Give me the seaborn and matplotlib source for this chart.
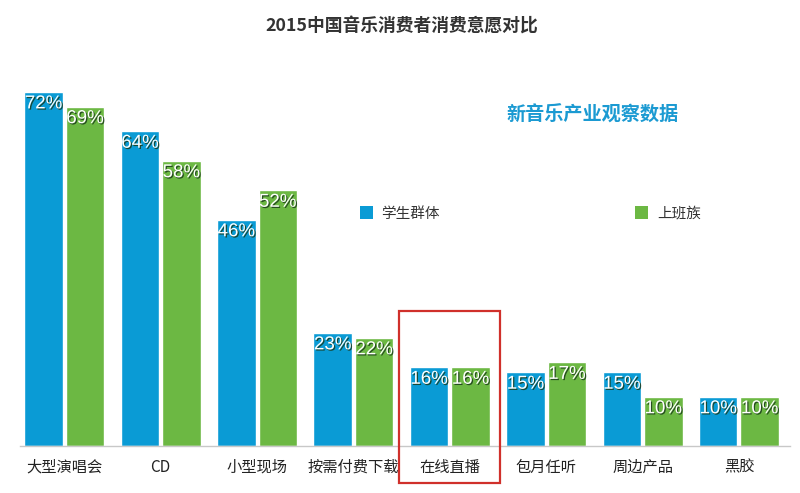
import pandas as pd
import seaborn as sns
import matplotlib.pyplot as plt
import matplotlib.patheffects as pe
from matplotlib.patches import Rectangle, Patch

# 数据
categories = ['大型演唱会', 'CD', '小型现场', '按需付费下载', '在线直播', '包月任听', '周边产品', '黑胶']
students = [72, 64, 46, 23, 16, 15, 15, 10]
workers = [69, 58, 52, 22, 16, 17, 10, 10]
series_names = ['学生群体', '上班族']
highlight = '在线直播'

colors = {'学生群体': '#0a9bd5', '上班族': '#6cb843'}

df = pd.DataFrame({
    'cat': categories * 2,
    'val': students + workers,
    'grp': [series_names[0]] * len(categories) + [series_names[1]] * len(categories),
})

sns.set_theme(style='white')
plt.rcParams['font.family'] = ['Noto Sans CJK SC', 'DejaVu Sans']

fig = plt.figure(figsize=(8, 4.93), dpi=100)
ax = fig.add_axes([0.025, 0.0953, 0.9625, 0.79])

sns.barplot(data=df, x='cat', y='val', hue='grp', palette=colors,
            width=0.86, gap=0.07, saturation=1, legend=False, ax=ax)

ax.set_xlim(-0.46, 7.53)
ax.set_ylim(0, 79.2)
ax.set_xlabel('')
ax.set_ylabel('')
ax.set_yticks([])
for s in ['top', 'right', 'left']:
    ax.spines[s].set_visible(False)
ax.spines['bottom'].set_color('#c8c8c8')
ax.spines['bottom'].set_linewidth(1.0)
ax.tick_params(axis='x', length=0, pad=9, labelsize=11, colors='#222222')

# 数值标签
shadow = [pe.withSimplePatchShadow(offset=(0.9, -0.9), shadow_rgbFace='#1a3a1a', alpha=0.85)]
for cont in ax.containers:
    for bar in cont:
        h = bar.get_height()
        ax.text(bar.get_x() + bar.get_width() / 2, h - 0.7, f'{h:.0f}%',
                ha='center', va='top', color='white', fontsize=13.5,
                family=['Liberation Sans', 'DejaVu Sans'], path_effects=shadow)

# 标题与来源
fig.text(0.502, 0.948, '2015中国音乐消费者消费意愿对比', ha='center', va='center',
         fontsize=12.8, color='#333333', fontweight='bold')
fig.text(0.741, 0.767, '新音乐产业观察数据', ha='center', va='center',
         fontsize=13.8, color='#1b9ad2', fontweight='bold')

# 图例
handles = [Patch(facecolor=colors[n], edgecolor='none') for n in series_names]
fig.legend(handles, series_names, loc='center left', bbox_to_anchor=(0.433, 0.567),
           ncol=2, frameon=False, fontsize=10.5, handlelength=0.9, handleheight=0.9,
           handletextpad=0.6, columnspacing=13.4, labelcolor='#333333')

# 红框突出显示
idx = categories.index(highlight)
rect = Rectangle((idx - 0.523, -7.6), 1.046, 35.1, fill=False, edgecolor='#d0302b',
                 linewidth=1.6, clip_on=False, zorder=5)
ax.add_patch(rect)

fig.savefig('out.png', dpi=100, facecolor='white')
